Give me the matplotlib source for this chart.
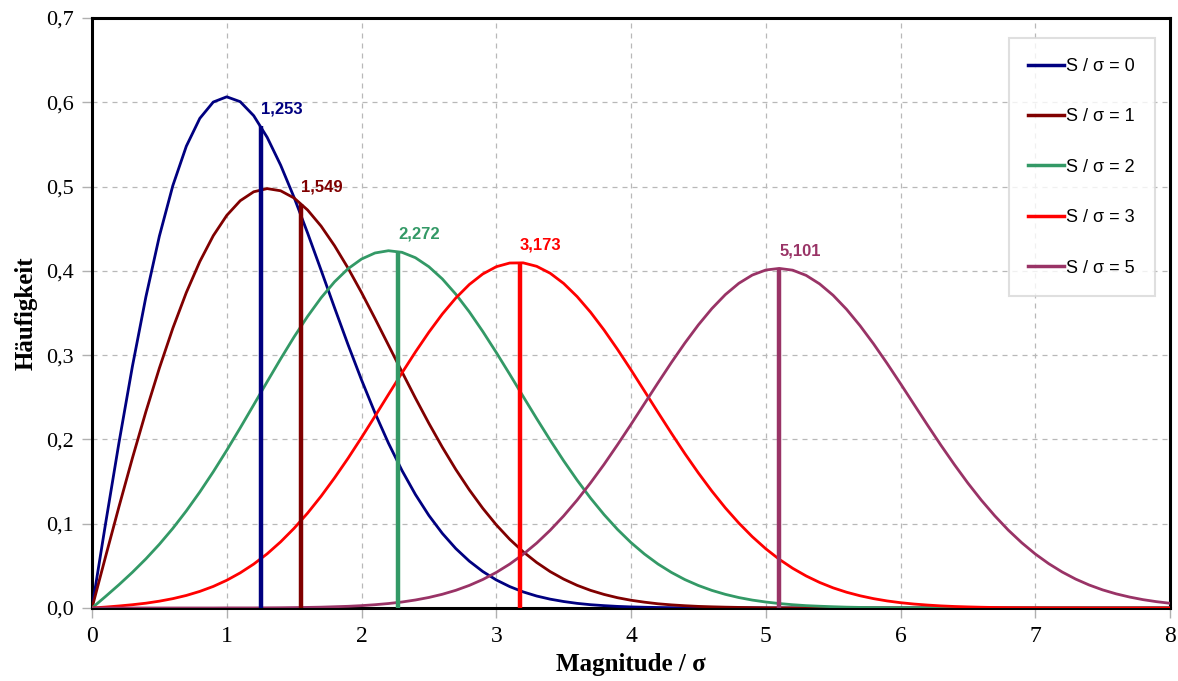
import numpy as np
import matplotlib
matplotlib.use('Agg')
import matplotlib.pyplot as plt

# x positions of the read-off points (every 0.1)
x_vals = np.round(np.arange(0, 8.001, 0.1), 1)

# Häufigkeit for each S/sigma
h_s0 = [0.0000, 0.0995, 0.1960, 0.2868, 0.3692, 0.4412, 0.5012, 0.5479, 0.5809, 0.6003,
        0.6065, 0.6007, 0.5841, 0.5584, 0.5254, 0.4870, 0.4449, 0.4008, 0.3562, 0.3125,
        0.2707, 0.2315, 0.1956, 0.1633, 0.1347, 0.1098, 0.0885, 0.0705, 0.0556, 0.0433,
        0.0333, 0.0254, 0.0191, 0.0142, 0.0105, 0.0077, 0.0055, 0.0039, 0.0028, 0.0019,
        0.0013, 0.0009, 0.0006, 0.0004, 0.0003, 0.0002, 0.0001, 0.0001, 0.0, 0.0] + [0.0] * 31
h_s1 = [0.0000, 0.0605, 0.1201, 0.1779, 0.2330, 0.2846, 0.3320, 0.3743, 0.4110, 0.4417,
        0.4658, 0.4832, 0.4938, 0.4976, 0.4950, 0.4864, 0.4722, 0.4531, 0.4298, 0.4033,
        0.3743, 0.3435, 0.3119, 0.2803, 0.2491, 0.2191, 0.1907, 0.1643, 0.1402, 0.1183,
        0.0987, 0.0815, 0.0667, 0.0540, 0.0432, 0.0343, 0.0269, 0.0209, 0.0161, 0.0122,
        0.0092, 0.0069, 0.0050, 0.0037, 0.0027, 0.0019, 0.0014, 0.0010, 0.0007, 0.0005,
        0.0003, 0.0002, 0.0001, 0.0001] + [0.0] * 27
h_s2 = [0.0000, 0.0136, 0.0276, 0.0424, 0.0583, 0.0756, 0.0945, 0.1152, 0.1376, 0.1616,
        0.1871, 0.2137, 0.2410, 0.2685, 0.2956, 0.3217, 0.3460, 0.3680, 0.3870, 0.4025,
        0.4140, 0.4212, 0.4239, 0.4220, 0.4156, 0.4049, 0.3904, 0.3723, 0.3514, 0.3281,
        0.3032, 0.2773, 0.2509, 0.2247, 0.1992, 0.1747, 0.1517, 0.1303, 0.1108, 0.0932,
        0.0776, 0.0640, 0.0522, 0.0422, 0.0337, 0.0267, 0.0209, 0.0162, 0.0124, 0.0094,
        0.0071, 0.0053, 0.0039, 0.0028, 0.0021, 0.0015, 0.0010, 0.0007, 0.0005, 0.0003,
        0.0002, 0.0002, 0.0001, 0.0001] + [0.0] * 17
h_s3 = [0.0000, 0.0011, 0.0024, 0.0039, 0.0057, 0.0081, 0.0111, 0.0149, 0.0197, 0.0256,
        0.0329, 0.0417, 0.0521, 0.0643, 0.0785, 0.0946, 0.1126, 0.1326, 0.1544, 0.1776,
        0.2022, 0.2275, 0.2533, 0.2788, 0.3037, 0.3272, 0.3488, 0.3678, 0.3838, 0.3963,
        0.4049, 0.4093, 0.4095, 0.4054, 0.3972, 0.3851, 0.3695, 0.3509, 0.3298, 0.3068,
        0.2825, 0.2574, 0.2322, 0.2073, 0.1831, 0.1602, 0.1387, 0.1188, 0.1008, 0.0846,
        0.0703, 0.0578, 0.0471, 0.0380, 0.0303, 0.0239, 0.0187, 0.0145, 0.0111, 0.0084,
        0.0063, 0.0047, 0.0035, 0.0025, 0.0018, 0.0013, 0.0009, 0.0006, 0.0004, 0.0003,
        0.0002, 0.0001, 0.0001, 0.0001] + [0.0] * 7
h_s5 = [0.0] * 10 + [
        0.0001, 0.0001, 0.0001, 0.0002, 0.0003, 0.0005, 0.0007, 0.0010, 0.0015, 0.0020,
        0.0028, 0.0039, 0.0053, 0.0071, 0.0095, 0.0125, 0.0163, 0.0210, 0.0268, 0.0338,
        0.0422, 0.0521, 0.0637, 0.0770, 0.0922, 0.1092, 0.1280, 0.1485, 0.1704, 0.1937,
        0.2178, 0.2425, 0.2671, 0.2913, 0.3144, 0.3359, 0.3552, 0.3718, 0.3852, 0.3950,
        0.4010, 0.4029, 0.4008, 0.3946, 0.3845, 0.3710, 0.3543, 0.3349, 0.3134, 0.2903,
        0.2662, 0.2416, 0.2171, 0.1931, 0.1701, 0.1482, 0.1279, 0.1093, 0.0924, 0.0774,
        0.0641, 0.0526, 0.0427, 0.0343, 0.0273, 0.0215, 0.0168, 0.0130, 0.0099, 0.0075,
        0.0056]

labels = ['S / σ = 0', 'S / σ = 1', 'S / σ = 2', 'S / σ = 3', 'S / σ = 5']
colors = ['#000080', '#800000', '#339966', '#ff0000', '#993366']

# mean values (vertical bars) and their heights
means = [1.253, 1.549, 2.272, 3.173, 5.101]
mean_heights = [0.572, 0.479, 0.423, 0.410, 0.403]
mean_labels = ['1,253', '1,549', '2,272', '3,173', '5,101']

x_ticks = [0, 1, 2, 3, 4, 5, 6, 7, 8]
y_ticks = [0.0, 0.1, 0.2, 0.3, 0.4, 0.5, 0.6, 0.7]
y_ticklabels = ['0,0', '0,1', '0,2', '0,3', '0,4', '0,5', '0,6', '0,7']

fig = plt.figure(figsize=(11.78, 6.81), dpi=100)
ax = fig.add_axes([92 / 1178, 73 / 681, 1078 / 1178, 590 / 681])

for ys, lab, c in zip([h_s0, h_s1, h_s2, h_s3, h_s5], labels, colors):
    ax.plot(x_vals, ys, color=c, lw=2.0, label=lab, zorder=3)

for m, h, lab, c in zip(means, mean_heights, mean_labels, colors):
    ax.vlines(m, 0, h, color=c, lw=3.2, zorder=4)
    ax.annotate(lab, (m, h), xytext=(0, 7), textcoords='offset points',
                ha='left', va='bottom', color=c, fontsize=12, fontweight='bold',
                family='Liberation Sans')

ax.set_xlim(0, 8)
ax.set_ylim(0, 0.7)
ax.set_xticks(x_ticks)
ax.set_xticklabels([str(t) for t in x_ticks], family='Liberation Serif', fontsize=17)
ax.set_yticks(y_ticks)
ax.set_yticklabels(y_ticklabels, family='Liberation Serif', fontsize=16)
ax.tick_params(axis='both', direction='out', length=7, width=1, color='#b0b0b0', pad=6)
ax.grid(True, color='#b8b8b8', linestyle=(0, (4, 4)), lw=0.9)
ax.set_axisbelow(True)
for s in ax.spines.values():
    s.set_linewidth(2.2)
    s.set_color('black')

ax.set_xlabel('Magnitude / σ', family='Liberation Serif', fontweight='bold', fontsize=18, labelpad=4)
ax.set_ylabel('Häufigkeit', family='Liberation Serif', fontweight='bold', fontsize=18, labelpad=6)

leg = ax.legend(loc='upper right', bbox_to_anchor=(0.986, 0.966), borderaxespad=0,
                prop={'family': 'Liberation Sans', 'size': 13}, frameon=True, fancybox=False,
                edgecolor='#d8d8d8', handlelength=2.0, handletextpad=0.1,
                labelspacing=1.85, borderpad=1.1)
leg.get_frame().set_linewidth(1.5)
for line in leg.get_lines():
    line.set_linewidth(2.5)

fig.savefig('out.png', dpi=100)
